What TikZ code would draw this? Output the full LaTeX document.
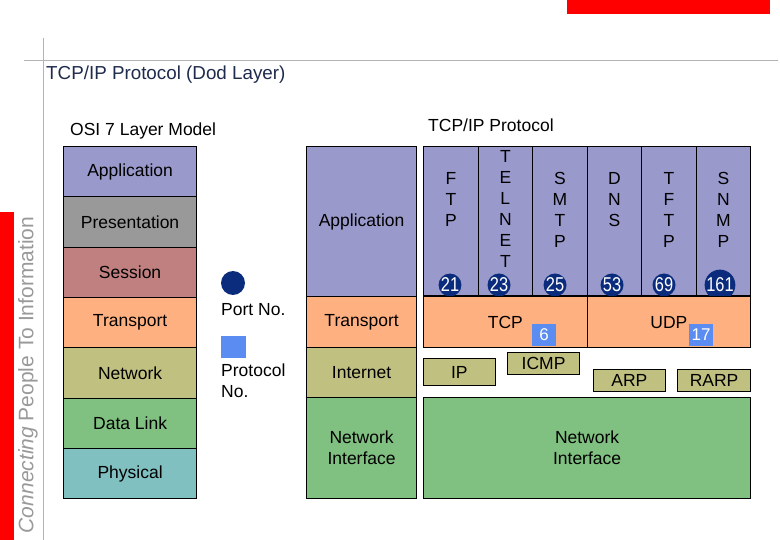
\documentclass[tikz,border=0pt]{standalone}
\usepackage{fontspec}
\setmainfont{Liberation Sans}
\usetikzlibrary{positioning}
\definecolor{osiapp}{HTML}{9999CC}
\definecolor{osipres}{HTML}{999999}
\definecolor{osisess}{HTML}{C08080}
\definecolor{ositrans}{HTML}{FFB080}
\definecolor{osinet}{HTML}{C0C080}
\definecolor{osilink}{HTML}{80C080}
\definecolor{osiphys}{HTML}{80C0C0}
\definecolor{portblue}{HTML}{0B2C7C}
\definecolor{protoblue}{HTML}{5B8CF2}
\definecolor{titlenavy}{HTML}{1F2B4D}
\definecolor{slide}{HTML}{B4B4B4}
\definecolor{barred}{HTML}{FF0000}
\newcommand{\portdigits}[1]{\scalebox{0.82}[1]{#1}}
\tikzset{
  layerbox/.style={draw, line width=1.2pt, anchor=north west, inner sep=0pt, align=center,
    font=\fontsize{17.5}{21}\selectfont},
  letters/.style={anchor=north, inner sep=0pt, align=center, font=\fontsize{17.5}{21}\selectfont},
  portno/.style={circle, fill=portblue, text=white, minimum size=22pt, inner sep=0pt,
    font=\fontsize{20}{20}\selectfont},
  protono/.style={fill=protoblue, text=white, minimum width=24pt, minimum height=22pt, inner sep=0pt,
    font=\fontsize{17}{17}\selectfont},
  plain/.style={inner sep=0pt, font=\fontsize{17.5}{21}\selectfont}
}
\begin{document}
\begin{tikzpicture}[x=1pt,y=-1pt]
\useasboundingbox (0,0) rectangle (780,540);
% slide frame
\fill[barred] (567,0) rectangle (770,14);
\fill[barred] (0,212) rectangle (14,540);
\draw[slide, line width=0.8pt] (24,60) -- (778,60);
\draw[slide, line width=0.8pt] (43,38) -- (43,540);
\node[rotate=90, text=osipres, inner sep=0pt, font=\fontsize{21}{21}\selectfont] (slogan) at (28,375)
  {\itshape Connecting \upshape People To Information};
\node[plain, anchor=west, text=titlenavy, font=\fontsize{18.8}{18.8}\selectfont] (title) at (46,75) {TCP/IP Protocol (Dod Layer)};
% OSI model
\node[plain, anchor=west] (osititle) at (70,131) {OSI 7 Layer Model};
\foreach \i/\lname/\lcol in {0/Application/osiapp,1/Presentation/osipres,2/Session/osisess,
    3/Transport/ositrans,4/Network/osinet,5/Data Link/osilink,6/Physical/osiphys}
  \node[layerbox, fill=\lcol, minimum width=133pt, minimum height=50.3pt] (osi\i) at (63,{146+\i*50.3}) {\lname};
% legend
\node[portno, minimum size=24pt] (legport) at (233,283) {};
\node[plain, anchor=west] (legporttxt) at (221,310) {Port No.};
\node[protono, minimum width=25pt] (legproto) at (233.5,347) {};
\node[plain, anchor=north west, align=left] (legprototxt) at (221,364) {Protocol\\No.};
% DoD layers
\node[plain, anchor=west] (dodtitle) at (428,125) {TCP/IP Protocol};
\node[layerbox, fill=osiapp, minimum width=110pt, minimum height=150pt] (dodapp) at (306,146) {Application};
\node[layerbox, fill=ositrans, minimum width=110pt, minimum height=51pt] (dodtrans) at (306,296) {Transport};
\node[layerbox, fill=osinet, minimum width=110pt, minimum height=50pt] (dodnet) at (306,347) {Internet};
\node[layerbox, fill=osilink, minimum width=110pt, minimum height=101pt] (dodlink) at (306,397) {Network\\Interface};
% application protocols
\foreach \i/\pname in {0/ftp,1/telnet,2/smtp,3/dns,4/tftp,5/snmp}
  \node[layerbox, fill=osiapp, minimum width=54.5pt, minimum height=149pt] (\pname) at ({423+\i*54.5},146) {};
\node[letters] (ftptxt) at (ftp.north |- 0,172) {F\\T\\P};
\node[letters] (telnettxt) at (telnet.north |- 0,150) {T\\E\\L\\N\\E\\T};
\node[letters] (smtptxt) at (smtp.north |- 0,172) {S\\M\\T\\P};
\node[letters] (dnstxt) at (dns.north |- 0,172) {D\\N\\S};
\node[letters] (tftptxt) at (tftp.north |- 0,172) {T\\F\\T\\P};
\node[letters] (snmptxt) at (snmp.north |- 0,172) {S\\N\\M\\P};
\foreach \n/\px in {21/450,23/499,25/555,53/612,69/664,161/720}
  \node[portno] (port\n) at (\px,285) {\portdigits{\n}};
% transport
\node[layerbox, fill=ositrans, minimum width=163.5pt, minimum height=51pt] (tcp) at (423,296) {TCP};
\node[layerbox, fill=ositrans, minimum width=163.5pt, minimum height=51pt] (udp) at (586.5,296) {UDP};
\node[protono] (proto6) at (544,335) {6};
\node[protono] (proto17) at (701,335) {17};
% internet
\node[layerbox, fill=osinet, minimum width=71.5pt, minimum height=27pt] (ip) at (423,358) {IP};
\node[layerbox, fill=osinet, minimum width=72pt, minimum height=22pt] (icmp) at (507,352) {ICMP};
\node[layerbox, fill=osinet, minimum width=71.5pt, minimum height=22pt] (arp) at (593,369) {ARP};
\node[layerbox, fill=osinet, minimum width=73pt, minimum height=22pt] (rarp) at (677,369) {RARP};
% network interface
\node[layerbox, fill=osilink, minimum width=327pt, minimum height=101pt] (netif) at (423,397) {Network\\Interface};
\end{tikzpicture}
\end{document}
